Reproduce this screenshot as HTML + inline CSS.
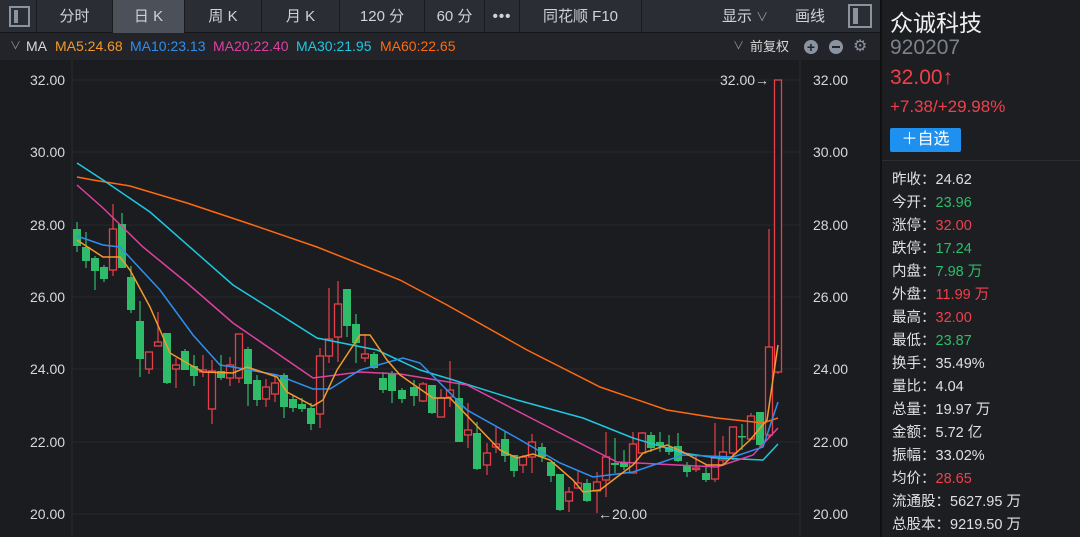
<!DOCTYPE html>
<html><head><meta charset="utf-8">
<style>
*{margin:0;padding:0;box-sizing:border-box}
body{width:1080px;height:537px;overflow:hidden;background:#1b1c20;font-family:"Liberation Sans","Noto Sans CJK SC",sans-serif;position:relative;color:#d8d8d8}
.tb{position:absolute;top:0;left:0;width:880px;height:33px;background:#2a2d33;border-bottom:1px solid #15161a}
.tab{position:absolute;top:0;height:33px;line-height:33px;text-align:center;font-size:15px;color:#d0d2d6;border-right:1px solid #1a1b1f}
.sel{background:#4b5059}
.leg{position:absolute;top:33px;left:0;width:880px;height:27px;background:#22242a;font-size:14px;line-height:27px}
.rp{position:absolute;left:880px;top:0;width:200px;height:537px;background:#1d1e22;border-left:2px solid #111}
.row{position:absolute;left:10px;font-size:14.5px;color:#e0e0e0}
</style></head><body>
<div class="tb">
 <div class="tab" style="left:0;width:37px"><div style="position:absolute;left:9px;top:6px;width:21px;height:21px;border:2px solid #8a93a0"><div style="position:absolute;left:3px;top:2px;width:4px;height:13px;background:#8a93a0"></div></div></div>
 <div class="tab" style="left:37px;width:76px">分时</div>
 <div class="tab sel" style="left:113px;width:72px">日 K</div>
 <div class="tab" style="left:185px;width:77px">周 K</div>
 <div class="tab" style="left:262px;width:78px">月 K</div>
 <div class="tab" style="left:340px;width:85px">120 分</div>
 <div class="tab" style="left:425px;width:60px">60 分</div>
 <div class="tab" style="left:485px;width:35px;font-weight:bold;letter-spacing:1px">•••</div>
 <div class="tab" style="left:520px;width:122px">同花顺 F10</div>
 <div style="position:absolute;left:722px;top:0;line-height:33px;font-size:15px;color:#d0d2d6">显示 <span style="color:#8a93a0;font-size:12px">&#8744;</span></div>
 <div style="position:absolute;left:795px;top:0;line-height:33px;font-size:15px;color:#d0d2d6">画线</div>
 <div style="position:absolute;left:848px;top:4px;width:24px;height:24px;border:2px solid #8a93a0"><div style="position:absolute;left:3px;top:2px;width:5px;height:16px;background:#8a93a0"></div></div>
</div>
<div class="leg">
 <span style="position:absolute;left:10px;color:#8a93a0;font-size:11px">&#8744;</span>
 <span style="position:absolute;left:26px;color:#d8d8d8">MA</span>
 <span style="position:absolute;left:55px;color:#f39a2b">MA5:24.68</span>
 <span style="position:absolute;left:130px;color:#2f8ff0">MA10:23.13</span>
 <span style="position:absolute;left:213px;color:#e040a0">MA20:22.40</span>
 <span style="position:absolute;left:296px;color:#1ec8e0">MA30:21.95</span>
 <span style="position:absolute;left:380px;color:#ff6a10">MA60:22.65</span>
 <span style="position:absolute;left:733px;color:#8a93a0;font-size:11px">&#8744;</span>
 <span style="position:absolute;left:750px;color:#d8d8d8;font-size:13px">前复权</span>
 <span style="position:absolute;left:804px;top:7px;width:14px;height:14px;border-radius:50%;background:#8a93a0;color:#22242a;font-size:14px;line-height:14px;text-align:center;font-weight:bold">+</span>
 <span style="position:absolute;left:829px;top:7px;width:14px;height:14px;border-radius:50%;background:#8a93a0;"><span style="position:absolute;left:3px;top:6px;width:8px;height:2px;background:#22242a"></span></span>
 <span style="position:absolute;left:853px;color:#8a93a0;font-size:16px">&#9881;</span>
</div>
<svg id="ch" width="880" height="477" style="position:absolute;left:0;top:60px" viewBox="0 60 880 477"></svg>
<div class="rp">
 <div style="position:absolute;left:8px;top:4px;font-size:23px;color:#f0f0f0">众诚科技</div>
 <div style="position:absolute;left:8px;top:36px;font-size:21px;color:#7d828a">920207</div>
 <div style="position:absolute;left:8px;top:66px;font-size:21px;color:#f0404a">32.00↑</div>
 <div style="position:absolute;left:8px;top:97px;font-size:17px;color:#f0404a">+7.38/+29.98%</div>
 <div style="position:absolute;left:8px;top:128px;width:71px;height:24px;background:#1e90f0;border-radius:2px;color:#fff;font-size:16px;line-height:24px;text-align:center">＋自选</div>
 <div style="position:absolute;left:0;top:160px;width:200px;height:1px;background:#2c2e33"></div>
 <div class="row" style="top:168px">昨收：24.62</div>
 <div class="row" style="top:191px">今开：<span style="color:#2ebc6a">23.96</span></div>
 <div class="row" style="top:214px">涨停：<span style="color:#f0404a">32.00</span></div>
 <div class="row" style="top:237px">跌停：<span style="color:#2ebc6a">17.24</span></div>
 <div class="row" style="top:260px">内盘：<span style="color:#2ebc6a">7.98 万</span></div>
 <div class="row" style="top:283px">外盘：<span style="color:#f0404a">11.99 万</span></div>
 <div class="row" style="top:306px">最高：<span style="color:#f0404a">32.00</span></div>
 <div class="row" style="top:329px">最低：<span style="color:#2ebc6a">23.87</span></div>
 <div class="row" style="top:352px">换手：35.49%</div>
 <div class="row" style="top:375px">量比：4.04</div>
 <div class="row" style="top:398px">总量：19.97 万</div>
 <div class="row" style="top:421px">金额：5.72 亿</div>
 <div class="row" style="top:444px">振幅：33.02%</div>
 <div class="row" style="top:467px">均价：<span style="color:#f0404a">28.65</span></div>
 <div class="row" style="top:490px">流通股：5627.95 万</div>
 <div class="row" style="top:513px">总股本：9219.50 万</div>
</div>
<script>
var s='';
var grid=[[80,'32.00'],[152,'30.00'],[225,'28.00'],[297,'26.00'],[369,'24.00'],[442,'22.00'],[514,'20.00']];
grid.forEach(function(g){s+='<line x1="72" x2="800" y1="'+g[0]+'" y2="'+g[0]+'" stroke="#26282d" stroke-width="1"/>';
s+='<text x="30" y="'+(g[0]+5)+'" fill="#d8d8d8" font-size="14" font-family="Liberation Sans">'+g[1]+'</text>';
s+='<text x="813" y="'+(g[0]+5)+'" fill="#d8d8d8" font-size="14" font-family="Liberation Sans">'+g[1]+'</text>';});
s+='<line x1="72" x2="72" y1="60" y2="537" stroke="#2a2c31"/><line x1="800" x2="800" y1="60" y2="537" stroke="#2a2c31"/>';
// x, color(g/r), bodyTop, bodyBot, wickTop, wickBot
var C=[
[77,'g',229,246,222,252],[86,'g',247,261,232,268],[95,'g',258,271,256,290],[104,'g',267,279,265,282],[113,'r',229,270,204,276],[122,'g',224,268,213,268],[131,'g',277,310,266,313],[140,'g',321,359,301,377],[149,'r',352,369,352,374],[158,'r',342,346,312,346],[167,'g',333,383,333,384],[176,'r',365,369,358,388],[185,'g',351,370,349,370],[194,'g',366,376,355,386],[203,'r',370,372,355,377],[212,'r',371,409,360,424],[221,'g',371,378,355,380],[230,'r',365,378,357,386],[239,'r',334,378,334,383],[248,'g',349,384,347,406],[257,'g',380,400,375,406],[266,'r',387,399,379,407],[275,'r',383,394,375,402],[284,'g',375,407,373,418],[293,'g',399,408,395,412],[302,'g',404,409,398,412],[311,'g',408,424,403,430],[320,'r',356,414,348,428],[329,'r',339,356,288,363],[338,'r',304,337,281,362],[347,'g',289,326,289,337],[356,'g',324,343,314,363],[365,'r',354,358,334,362],[374,'g',354,368,352,369],[383,'g',378,390,372,393],[392,'g',373,391,371,403],[402,'g',390,399,388,403],[414,'g',387,396,380,406],[423,'r',384,401,382,402],[432,'g',385,413,385,414],[441,'r',398,417,389,417],[450,'r',390,397,361,407],[459,'g',398,442,382,442],[468,'r',430,435,403,448],[477,'g',433,469,422,470],[487,'r',453,465,443,475],[496,'r',444,447,427,453],[505,'g',439,456,432,462],[514,'g',455,471,455,477],[523,'r',457,465,455,473],[532,'r',442,457,434,473],[542,'g',447,457,443,462],[551,'g',462,476,462,482],[560,'g',474,510,474,511],[569,'r',492,501,487,512],[578,'r',483,488,470,488],[587,'g',483,501,479,502],[597,'r',482,491,472,513],[606,'r',457,480,432,497],[615,'g',463,465,438,473],[624,'g',462,467,450,470],[633,'r',444,473,432,473],[642,'r',433,453,432,453],[651,'g',435,448,432,452],[660,'g',442,446,432,452],[669,'g',447,452,435,455],[678,'g',446,461,433,462],[687,'g',466,472,462,477],[696,'r',468,469,455,472],[706,'g',473,480,465,482],[715,'r',458,479,423,482],[723,'r',452,460,436,465],[733,'r',427,453,427,460],[742,'g',436,437,424,450],[751,'r',416,439,413,439],[760,'g',412,445,412,447],[769,'r',347,435,229,437],[778,'r',80,372,80,374]];
C.forEach(function(c){var x=c[0],col=c[1]=='r'?'#e8404a':'#2ebc6a';
s+='<line x1="'+x+'" x2="'+x+'" y1="'+c[4]+'" y2="'+c[5]+'" stroke="'+col+'" stroke-width="1.2"/>';
var h=Math.max(1.5,c[3]-c[2]);
if(c[1]=='r'){s+='<rect x="'+(x-3.5)+'" y="'+c[2]+'" width="7" height="'+h+'" fill="#1b1c20" stroke="'+col+'" stroke-width="1.3"/>';}
else{s+='<rect x="'+(x-4)+'" y="'+c[2]+'" width="8" height="'+h+'" fill="'+col+'"/>';}
});
function pl(pts,col){s+='<polyline fill="none" stroke="'+col+'" stroke-width="1.5" points="'+pts+'"/>';}
pl('77,177 93,180 130,186 187,203 250,224 317,247 400,280 447,305 527,350 600,387 667,410 717,418 763,423 778,418','#ff6a10');
pl('77,163 103,180 150,212 233,285 317,338 377,350 420,370 450,379 517,400 583,418 633,438 683,453 717,458 763,460 778,444','#1ec8e0');
pl('77,185 103,208 143,247 187,283 233,323 313,378 360,372 400,374 467,385 560,433 617,462 717,467 753,455 778,428','#e040a0');
pl('77,236 103,245 120,247 160,290 193,335 220,365 233,367 277,375 313,389 330,389 360,370 403,358 420,363 467,410 517,438 560,463 593,477 633,472 683,455 733,457 763,447 778,402','#2f8ff0');
pl('77,240 103,257 120,257 130,270 150,307 170,353 187,363 203,372 233,373 247,367 277,377 287,392 313,406 323,400 337,370 360,335 370,335 387,360 400,375 433,398 450,398 500,450 517,458 533,454 550,460 573,480 583,492 600,490 617,477 633,465 643,453 667,445 683,452 707,465 723,465 750,440 767,420 778,345','#f39a2b');
s+='<text x="720" y="85" fill="#d8d8d8" font-size="14" font-family="Liberation Sans">32.00→</text>';
s+='<text x="598" y="519" fill="#d8d8d8" font-size="14" font-family="Liberation Sans">←20.00</text>';
document.getElementById('ch').innerHTML=s;
</script>
</body></html>
